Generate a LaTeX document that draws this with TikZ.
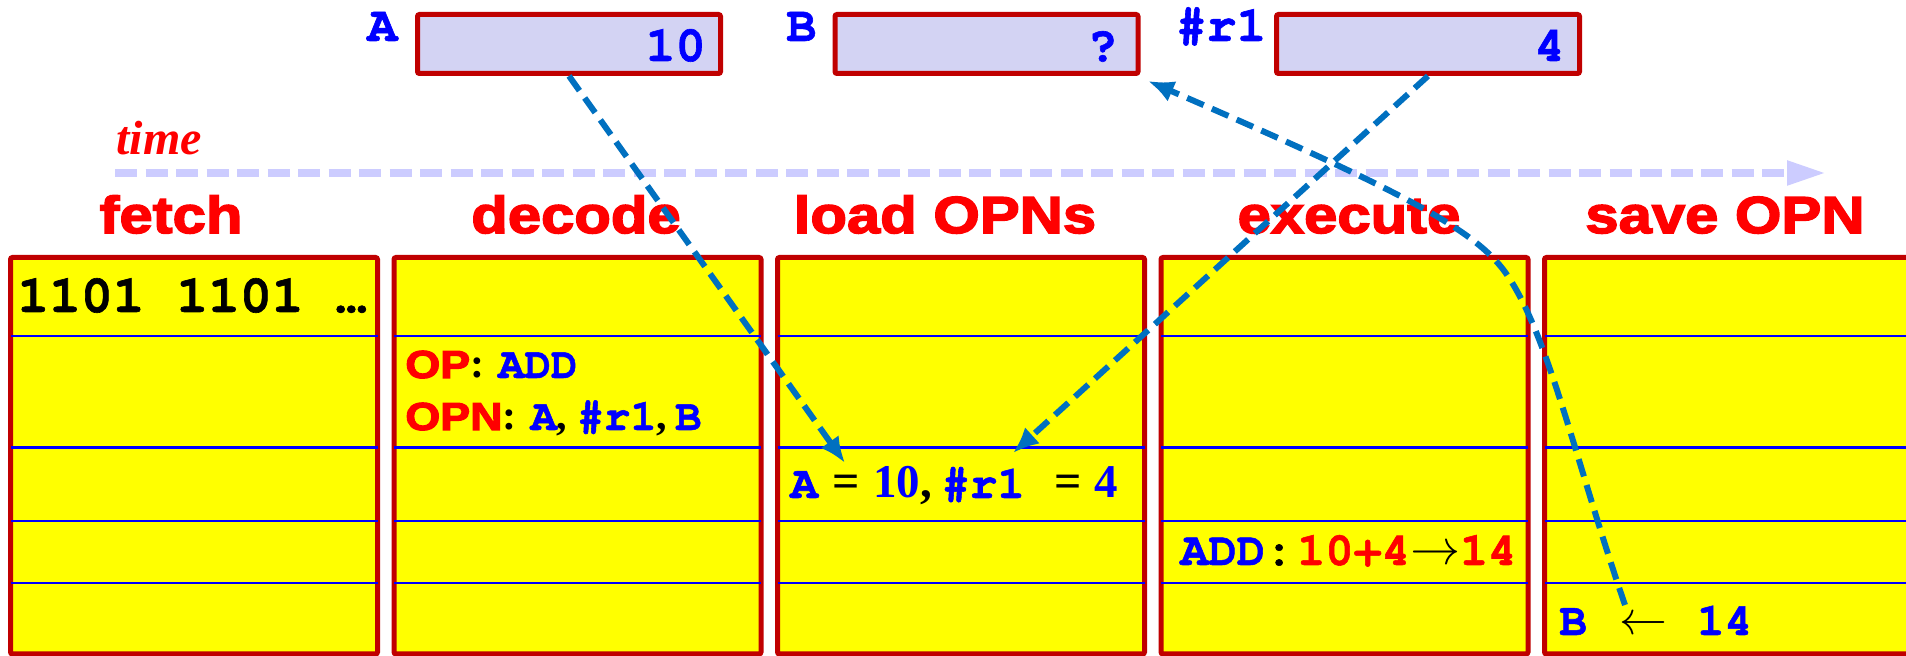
\documentclass[tikz,border=0pt]{standalone}
\usepackage{fontspec}
\setmainfont{Liberation Serif}
\newfontfamily\hdrfam{Liberation Sans}[FakeStretch=1.15,FakeBold=3]
\newfontfamily\cour{texgyrecursor}[Extension=.otf, UprightFont=*-regular, BoldFont=*-bold, FakeBold=1.2]
\newfontfamily\arr{Latin Modern Math}
\usetikzlibrary{arrows.meta,calc}
\definecolor{stagered}{HTML}{FF0000}
\definecolor{boxred}{HTML}{C00000}
\definecolor{txtblue}{HTML}{0000FF}
\definecolor{lav}{HTML}{D3D3F3}
\definecolor{flow}{HTML}{0070C0}
\definecolor{timeclr}{HTML}{CCCCFF}
\definecolor{cellyellow}{HTML}{FFFF00}
\newcommand\fs[1]{\fontsize{#1}{#1}\selectfont}
\newcommand\hdr[1]{{\hdrfam\bfseries\color{stagered}#1}}
\newcommand\cb[1]{{\cour\bfseries\color{txtblue}#1}}
\newcommand\cred[1]{{\cour\bfseries\color{stagered}#1}}
\begin{document}
\begin{tikzpicture}[x=0.5pt,y=-0.5pt,
  colbox/.style={draw=boxred, fill=cellyellow, line width=2.5pt, rounded corners=1pt,
    minimum width=183.5pt, minimum height=198.25pt, inner sep=0pt},
  regbox/.style={draw=boxred, fill=lav, line width=2.5pt, rounded corners=1pt,
    minimum width=151.5pt, minimum height=29.5pt, inner sep=0pt},
  rowline/.style={draw=txtblue, line width=1.3pt, shorten <=1.25pt, shorten >=1.25pt},
  stage/.style={font=\hdrfam\bfseries\fs{26pt}, text=stagered, anchor=base, inner sep=0pt},
  txt/.style={anchor=base west, inner sep=0pt},
  regname/.style={anchor=base west, inner sep=0pt, text=txtblue, font=\cour\bfseries\fs{25pt}},
  regval/.style={anchor=base east, inner sep=0pt, text=txtblue, font=\cour\bfseries\fs{25pt}},
  flowarrow/.style={draw=flow, line width=3pt, dash pattern=on 9pt off 4.5pt,
    -{Latex[length=13pt,width=11pt]}},
  timearrow/.style={draw=timeclr, line width=4pt, dash pattern=on 11pt off 4.25pt,
    -{Triangle[length=19.5pt,width=11.5pt]}}
  ]
\fill[white] (0,0) rectangle (1906,656);
\useasboundingbox (0,0) rectangle (1906,656);

% time axis
\node[txt, text=stagered, font=\bfseries\itshape\fs{24pt}] (time) at (116,155) {time};
\coordinate (tstart) at (115,173);
\coordinate (tend) at (1826,173);
\draw[timearrow] (tstart) -- (tend);

% stage headings
\node[stage] (hfetch) at (171,233) {fetch};
\node[stage] (hdecode) at (576,233) {decode};
\node[stage] (hload) at (945,233) {load OPNs};
\node[stage] (hexec) at (1349,233) {execute};
\node[stage] (hsave) at (1725,233) {save OPN};

% stage columns
\node[colbox] (fetch) at (194,455.75) {};
\node[colbox] (decode) at (577.5,455.75) {};
\node[colbox] (load) at (961,455.75) {};
\node[colbox] (exec) at (1344.5,455.75) {};
\node[colbox] (save) at (1728,455.75) {};
\foreach \yy [count=\i] in {336,447.5,521,583} {
  \coordinate (row\i) at (0,\yy);
  \foreach \c in {fetch,decode,load,exec,save}
    \draw[rowline] (\c.west |- row\i) -- (\c.east |- row\i);
}

% registers / memory cells
\node[regbox] (regA) at (569,44) {};
\node[regbox] (regB) at (986.5,44) {};
\node[regbox] (regR) at (1428,44) {};
\node[regname] (nameA) at (367,41) {A};
\node[regname] (nameB) at (786,41) {B};
\node[regname] (nameR) at (1176,41) {\#r1};
\node[regval] (valA) at (706,61) {10};
\node[regval] (valB) at (1118,61) {?};
\node[regval] (valR) at (1565,61) {4};

% column contents
\node[txt, font=\cour\bfseries\fs{26.5pt}] (bits) at (17,312) {1101 1101 …};
\node[txt] (op) at (405,378)
  {\hdr{\fs{19.5pt}OP}{\bfseries\fs{21pt}:}\hspace{7pt}\cb{\fs{22pt}ADD}};
\node[txt] (opn) at (405,430)
  {\hdr{\fs{19.5pt}OPN}{\bfseries\fs{21pt}:}\hspace{7pt}\cb{\fs{22pt}A}{\bfseries\fs{21pt},}\hspace{5pt}\cb{\fs{22pt}\#r1}{\bfseries\fs{21pt},}\hspace{4pt}\cb{\fs{22pt}B}};
\node[txt] (vals) at (790,498)
  {\cb{\fs{23pt}A}\hspace{7pt}{\bfseries\fs{24pt}=}\hspace{7pt}{\bfseries\fs{23.5pt}\color{txtblue}10}{\bfseries\fs{23.5pt},}\hspace{5pt}\cb{\fs{23pt}\#r1}\hspace{15pt}{\bfseries\fs{24pt}=}\hspace{6pt}{\bfseries\fs{23.5pt}\color{txtblue}4}};
\node[txt] (add) at (1180,565)
  {\cb{\fs{23.5pt}ADD}{\cour\bfseries\fs{23.5pt}:}\hspace{2pt}\cred{\fs{23.5pt}10+4}{\arr\fs{25pt}→}\cred{\fs{23.5pt}14}};
\node[txt] (store) at (1559,635)
  {\cb{\fs{23pt}B}\hspace{16pt}{\arr\fs{24pt}←}\hspace{15pt}\cb{\fs{23pt}14}};

% operand flow
\coordinate (tipA) at (845,463);
\coordinate (tipR) at (1013,453);
\coordinate (fromB) at (1625,605);
\coordinate (tipB) at (1148,81);
\draw[flowarrow] (regA.south) -- (tipA);
\draw[flowarrow] (regR.south) -- (tipR);
\draw[flowarrow] (fromB) .. controls (1575,460) and (1548,332) .. (1505,272)
  .. controls (1474,229) and (1400,190) .. (tipB);
\end{tikzpicture}
\end{document}
